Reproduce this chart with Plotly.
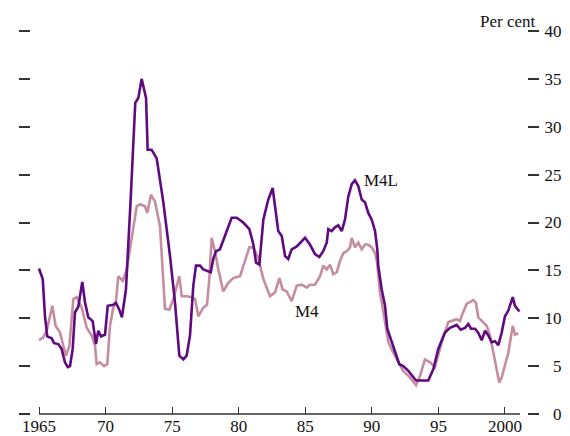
import plotly.graph_objects as go

# ---- data (annual growth rates, per cent) ----
m4l_years = [1965.0, 1965.28, 1965.45, 1965.62, 1965.95, 1966.13, 1966.45, 1966.70, 1966.95, 1967.16,
             1967.33, 1967.53, 1967.70, 1967.95, 1968.25, 1968.45, 1968.70, 1969.03, 1969.28, 1969.45,
             1969.66, 1969.96, 1970.16, 1970.58, 1970.78, 1971.03, 1971.23, 1971.46, 1971.53, 1971.87,
             1972.23, 1972.46, 1972.71, 1973.04, 1973.16, 1973.46, 1973.84, 1974.34, 1974.84, 1975.21,
             1975.54, 1975.84, 1976.09, 1976.34, 1976.59, 1976.79, 1977.09, 1977.34, 1977.72, 1977.90,
             1978.09, 1978.29, 1978.59, 1978.84, 1979.14, 1979.47, 1979.85, 1980.34, 1980.80, 1981.10,
             1981.30, 1981.55, 1981.85, 1982.22, 1982.55, 1982.80, 1982.97, 1983.23, 1983.48, 1983.72,
             1983.98, 1984.36, 1984.73, 1984.98, 1985.35, 1985.73, 1986.05, 1986.35, 1986.61, 1986.73,
             1986.98, 1987.23, 1987.48, 1987.74, 1987.98, 1988.23, 1988.49, 1988.73, 1988.98, 1989.24,
             1989.49, 1989.73, 1989.99, 1990.24, 1990.41, 1990.48, 1990.74, 1990.99, 1991.16, 1991.49,
             1991.87, 1992.06, 1992.36, 1992.74, 1993.32, 1994.24, 1994.62, 1994.99, 1995.49, 1995.87,
             1996.37, 1996.67, 1997.00, 1997.24, 1997.45, 1997.75, 1997.99, 1998.25, 1998.50, 1998.75,
             1999.00, 1999.25, 1999.50, 1999.75, 2000.00, 2000.25, 2000.58, 2000.75, 2001.08]
m4l_values = [15.2, 14.1, 10.2, 8.1, 7.9, 7.4, 7.3, 6.8, 5.4, 4.9,
              5.0, 6.8, 10.6, 11.2, 13.8, 11.7, 10.1, 9.7, 7.3, 8.7,
              8.1, 8.3, 11.3, 11.4, 11.6, 10.9, 10.1, 12.2, 13.0, 22.0,
              32.5, 33.0, 35.0, 33.0, 27.6, 27.6, 26.7, 22.1, 16.5, 11.7,
              6.1, 5.7, 6.1, 8.2, 13.4, 15.5, 15.5, 15.1, 14.9, 14.8,
              16.2, 17.0, 17.2, 18.1, 19.3, 20.5, 20.5, 20.0, 19.3, 17.7,
              15.8, 15.6, 20.3, 22.4, 23.6, 21.0, 19.1, 18.6, 16.5, 16.2,
              17.2, 17.5, 18.1, 18.4, 17.7, 16.7, 16.4, 17.0, 17.9, 19.3,
              19.1, 19.5, 19.7, 19.1, 20.3, 22.7, 24.0, 24.4, 23.8, 22.4,
              22.1, 21.0, 20.3, 19.1, 17.2, 15.5, 13.0, 11.3, 8.9, 7.5,
              6.1, 5.2, 5.0, 4.5, 3.5, 3.5, 4.7, 6.8, 8.5, 9.0,
              9.3, 8.8, 9.0, 9.4, 8.9, 8.9, 8.5, 7.7, 8.7, 8.2,
              7.5, 7.6, 7.2, 8.5, 10.2, 10.8, 12.2, 11.3, 10.7]

m4_years = [1965.0, 1965.32, 1965.58, 1966.0, 1966.25, 1966.58, 1966.83, 1967.03, 1967.28, 1967.58,
            1967.83, 1968.21, 1968.58, 1968.96, 1969.21, 1969.33, 1969.58, 1969.88, 1970.13, 1970.33,
            1970.58, 1970.78, 1970.96, 1971.29, 1971.59, 1971.96, 1972.34, 1972.59, 1972.96, 1973.13,
            1973.41, 1973.71, 1974.09, 1974.46, 1974.79, 1975.09, 1975.54, 1975.72, 1976.09, 1976.47,
            1976.72, 1976.97, 1977.34, 1977.62, 1977.79, 1977.97, 1978.22, 1978.47, 1978.84, 1979.22,
            1979.59, 1980.10, 1980.47, 1980.80, 1981.10, 1981.47, 1981.85, 1982.35, 1982.73, 1983.05,
            1983.30, 1983.60, 1983.98, 1984.36, 1984.73, 1985.11, 1985.35, 1985.73, 1986.11, 1986.35,
            1986.61, 1986.86, 1987.10, 1987.36, 1987.61, 1987.86, 1988.11, 1988.36, 1988.49, 1988.73,
            1988.98, 1989.24, 1989.49, 1989.73, 1989.99, 1990.24, 1990.39, 1990.61, 1990.99, 1991.24,
            1991.61, 1991.99, 1992.36, 1992.87, 1993.32, 1993.62, 1993.99, 1994.37, 1994.74, 1995.25,
            1995.74, 1996.37, 1996.62, 1996.73, 1997.12, 1997.62, 1997.82, 1997.99, 1998.37, 1998.63,
            1998.87, 1999.12, 1999.38, 1999.57, 1999.75, 2000.00, 2000.25, 2000.58, 2000.75, 2001.00]
m4_values = [7.7, 8.0, 8.7, 11.3, 9.2, 8.5, 7.1, 6.1, 7.1, 12.0,
             12.2, 11.1, 9.0, 8.2, 7.1, 5.2, 5.4, 5.0, 5.2, 9.2,
             11.1, 11.8, 14.4, 13.9, 15.1, 18.2, 21.7, 21.9, 21.7, 21.0,
             22.9, 22.2, 19.6, 11.0, 10.9, 12.0, 14.4, 12.3, 12.3, 12.2,
             12.0, 10.2, 11.1, 11.4, 14.1, 18.4, 17.0, 15.1, 12.8, 13.7,
             14.2, 14.4, 16.0, 17.4, 17.4, 16.3, 14.1, 12.3, 12.7, 14.2,
             13.0, 12.8, 11.8, 13.4, 13.5, 13.2, 13.5, 13.5, 14.4, 15.5,
             15.1, 15.6, 14.6, 14.8, 16.0, 16.8, 17.0, 17.4, 18.4, 17.4,
             17.9, 17.2, 17.7, 17.7, 17.4, 16.8, 15.9, 12.7, 9.6, 7.5,
             6.4, 5.4, 4.5, 3.8, 3.0, 4.0, 5.7, 5.4, 4.9, 7.5,
             9.6, 9.9, 9.7, 10.2, 11.5, 11.9, 11.6, 10.1, 9.6, 9.2,
             8.2, 6.4, 4.3, 3.3, 3.8, 5.0, 6.4, 9.2, 8.3, 8.4]

tick_years = [1965, 1970, 1975, 1980, 1985, 1990, 1995, 2000]
tick_year_labels = ["1965", "70", "75", "80", "85", "90", "95", "2000"]
y_ticks = [0, 5, 10, 15, 20, 25, 30, 35, 40]
y_tick_labels = ["\u20070", "\u20075", "10", "15", "20", "25", "30", "35", "40"]

FONT = "Liberation Serif, Times New Roman, serif"
M4L_COLOR = "#5f0a80"
M4_COLOR = "#c68da1"
TICK_COLOR = "#333333"
TEXT_COLOR = "#111111"

fig = go.Figure()
fig.add_trace(go.Scatter(x=m4_years, y=m4_values, mode="lines", name="M4",
                         line=dict(color=M4_COLOR, width=2.6), yaxis="y", hoverinfo="skip"))
fig.add_trace(go.Scatter(x=m4l_years, y=m4l_values, mode="lines", name="M4L",
                         line=dict(color=M4L_COLOR, width=2.6), yaxis="y2", hoverinfo="skip"))

# baseline (axis line stopping just after the last observation)
fig.add_shape(type="line", xref="x", yref="paper", x0=1965, x1=2001.13, y0=0, y1=0,
              line=dict(color=TICK_COLOR, width=1.4))

fig.add_annotation(text="M4L", x=1990.69, y=24.4, xref="x", yref="y", showarrow=False,
                   font=dict(family=FONT, size=17, color=TEXT_COLOR))
fig.add_annotation(text="M4", x=1985.13, y=10.7, xref="x", yref="y", showarrow=False,
                   font=dict(family=FONT, size=17, color=TEXT_COLOR))
fig.add_annotation(text="Per cent", x=1.0222, y=1.026, xref="paper", yref="paper",
                   xanchor="right", yanchor="middle", showarrow=False,
                   font=dict(family=FONT, size=17, color=TEXT_COLOR))

fig.update_layout(
    width=570, height=436,
    margin=dict(l=31, r=43, t=31, b=22, pad=0, autoexpand=False),
    paper_bgcolor="white", plot_bgcolor="white",
    showlegend=False,
    font=dict(family=FONT, size=17, color=TEXT_COLOR),
    xaxis=dict(range=[1964.399, 2001.653], tickvals=tick_years, ticktext=tick_year_labels,
               ticks="inside", ticklen=7, tickwidth=1.2, tickcolor=TICK_COLOR,
               showgrid=False, zeroline=False, showline=False, automargin=False,
               ticklabelstandoff=0,
               tickfont=dict(family=FONT, size=17, color=TEXT_COLOR)),
    yaxis=dict(range=[0, 40], tickvals=y_ticks, ticks="outside", ticklen=11,
               tickwidth=1.5, tickcolor=TICK_COLOR, showticklabels=False,
               showgrid=False, zeroline=False, showline=False, automargin=False),
    yaxis2=dict(range=[0, 40], tickvals=y_ticks, ticktext=y_tick_labels, overlaying="y",
                side="right", ticks="outside", ticklen=11, tickwidth=1.5, tickcolor=TICK_COLOR,
                showgrid=False, zeroline=False, showline=False, automargin=False,
                ticklabelstandoff=2,
                tickfont=dict(family=FONT, size=17, color=TEXT_COLOR)),
)

# remove the page's default body margin so the 570x436 figure fills the window exactly
fig.write_html("out.html", config={"displayModeBar": False},
               post_script="document.body.style.margin='0px';document.body.style.overflow='hidden';")
